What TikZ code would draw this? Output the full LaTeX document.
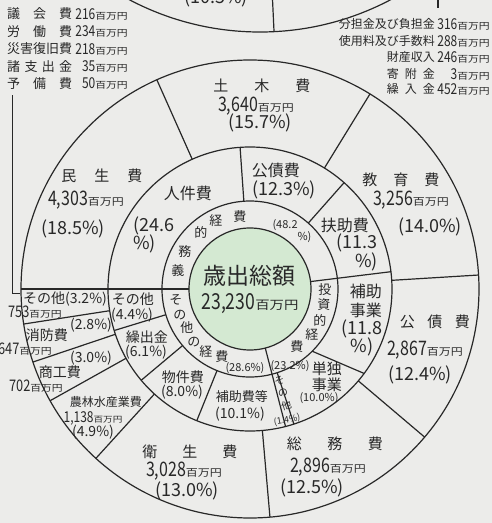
\documentclass[tikz,border=0pt]{standalone}
\usepackage{fontspec}
\setmainfont{Noto Sans CJK JP}
\newfontfamily\numfont[FakeStretch=0.8]{Noto Sans CJK JP}
\newfontfamily\unitfont[FakeStretch=1.2]{Noto Sans CJK JP}
\usepackage{tikz}
\definecolor{paper}{RGB}{236,236,234}
\definecolor{mint}{RGB}{212,233,210}
\definecolor{ink}{RGB}{40,40,40}
\newcommand{\mil}[1][10]{{\unitfont\fontsize{#1}{#1}\selectfont 百万円}}
\newcommand{\spread}[2]{\makebox[#1]{#2}}
\tikzstyle{ring} = [draw=ink, line width=1.2pt]
\tikzstyle{divider} = [draw=ink, line width=1.2pt]
\tikzstyle{leader} = [draw=ink, line width=1pt]
\tikzset{
  txt/.style={text=ink, inner sep=0pt, align=center},
  bigname/.style={txt, font=\fontsize{15}{15}\selectfont},
  bigamt/.style={txt, font=\numfont\fontsize{20}{20}\selectfont},
  bigpct/.style={txt, font=\fontsize{18}{18}\selectfont},
  midname/.style={txt, font=\fontsize{16}{19}\selectfont},
  midpct/.style={txt, font=\fontsize{18}{18.5}\selectfont},
  lowname/.style={txt, font=\fontsize{14}{14}\selectfont},
  smallamt/.style={txt, font=\numfont\fontsize{16}{16}\selectfont},
  arcchar/.style={txt, font=\fontsize{13}{13}\selectfont},
  tinytext/.style={txt, font=\fontsize{11}{11}\selectfont},
  listname/.style={txt, font=\fontsize{13}{13}\selectfont},
  listvalue/.style={txt, font=\numfont\fontsize{15}{15}\selectfont},
}
\begin{document}
\begin{tikzpicture}[x=1pt, y=1pt]

  \useasboundingbox (-250,-234) rectangle (242,289);
  \fill[paper] (-250,-234) rectangle (242,289);
  \clip (-250,-234) rectangle (242,289);

  %%%%%%%%%%%%%%%%%%%%%%%%%%%%%%%%%%%%%%%%%%%%%%%%%%%%%%%%%%%%%%
  %                    REVENUE PIE (CUT OFF)                   %
  %%%%%%%%%%%%%%%%%%%%%%%%%%%%%%%%%%%%%%%%%%%%%%%%%%%%%%%%%%%%%%

  \draw[ring] (10,537) circle (280pt);
  \draw[divider] (22.4,292) -- (24,258);
  \draw[divider] (188,292) -- (188,281);
  \node[bigpct] (revenue-share) at (-34,291) {(10.5\%)};

  %%%%%%%%%%%%%%%%%%%%%%%%%%%%%%%%%%%%%%%%%%%%%%%%%%%%%%%%%%%%%%
  %                    LISTS                                   %
  %%%%%%%%%%%%%%%%%%%%%%%%%%%%%%%%%%%%%%%%%%%%%%%%%%%%%%%%%%%%%%

  \node[listname, anchor=west] (assembly-label) at (-243,275) {\spread{65pt}{議\hfill 会\hfill 費}};
  \node[listvalue, anchor=east] (assembly-value) at (-122,275) {216\mil[9]};
  \node[listname, anchor=west] (labour-label) at (-243,257.5) {\spread{65pt}{労\hfill 働\hfill 費}};
  \node[listvalue, anchor=east] (labour-value) at (-122,257.5) {234\mil[9]};
  \node[listname, anchor=west] (disaster-label) at (-243,240) {\spread{65pt}{災害復旧費}};
  \node[listvalue, anchor=east] (disaster-value) at (-122,240) {218\mil[9]};
  \node[listname, anchor=west] (misc-label) at (-243,222.5) {\spread{65pt}{諸\hfill 支\hfill 出\hfill 金}};
  \node[listvalue, anchor=east] (misc-value) at (-122,222.5) {35\mil[9]};
  \node[listname, anchor=west] (reserve-label) at (-243,205.5) {\spread{65pt}{予\hfill 備\hfill 費}};
  \node[listvalue, anchor=east] (reserve-value) at (-122,205.5) {50\mil[9]};

  \coordinate (leader-top) at (-237,194);
  \coordinate (leader-end) at (-230,-4);
  \draw[leader] (leader-top) |- (leader-end);

  \node[listname, anchor=east, font=\fontsize{12}{12}\selectfont] (shares-label) at (185,265) {分担金及び負担金};
  \node[listvalue, anchor=east] (shares-value) at (240,265) {316\mil[9]};
  \node[listname, anchor=east, font=\fontsize{12}{12}\selectfont] (fees-label) at (185,248) {使用料及び手数料};
  \node[listvalue, anchor=east] (fees-value) at (240,248) {288\mil[9]};
  \node[listname, anchor=east, font=\fontsize{12}{12}\selectfont] (property-label) at (185,232) {財産収入};
  \node[listvalue, anchor=east] (property-value) at (240,232) {246\mil[9]};
  \node[listname, anchor=east, font=\fontsize{12}{12}\selectfont] (donation-label) at (185,215) {\spread{48pt}{寄\hfill 附\hfill 金}};
  \node[listvalue, anchor=east] (donation-value) at (240,215) {3\mil[9]};
  \node[listname, anchor=east, font=\fontsize{12}{12}\selectfont] (transfer-label) at (185,200) {\spread{48pt}{繰\hfill 入\hfill 金}};
  \node[listvalue, anchor=east] (transfer-value) at (240,200) {452\mil[9]};

  %%%%%%%%%%%%%%%%%%%%%%%%%%%%%%%%%%%%%%%%%%%%%%%%%%%%%%%%%%%%%%
  %                    EXPENDITURE PIE                         %
  %%%%%%%%%%%%%%%%%%%%%%%%%%%%%%%%%%%%%%%%%%%%%%%%%%%%%%%%%%%%%%

  \filldraw[ring, fill=mint] (0,0) circle (61pt);
  \draw[ring] (0,0) circle (88pt);
  \draw[ring] (0,0) circle (142pt);
  \draw[ring] (0,0) circle (229pt);

  % by character
  \draw[divider] (180:61pt) -- (180:229pt);
  \draw[divider] (7:61pt) -- (7:142pt);
  \draw[divider] (-75.5:61pt) -- (-75.5:142pt);

  % by kind
  \draw[divider] (94:88pt) -- (94:142pt)
    (48.5:88pt) -- (48.5:142pt)
    (-45:88pt) -- (-36.5:142pt)
    (-72:88pt) -- (-72:142pt)
    (-112:88pt) -- (-112:142pt)
    (-140:88pt) -- (-140:142pt)
    (-163:88pt) -- (-163:142pt);

  % by purpose
  \draw[divider] (114:142pt) -- (114:229pt)
    (58.4:142pt) -- (58.4:229pt)
    (3.5:142pt) -- (3.5:229pt)
    (-40.3:142pt) -- (-40.3:229pt)
    (-85:142pt) -- (-85:229pt)
    (-132.3:142pt) -- (-132.3:229pt)
    (-150.8:142pt) -- (-150.8:229pt)
    (-161.4:142pt) -- (-161.4:229pt)
    (-171.2:142pt) -- (-171.2:229pt);

  % centre
  \node[txt, font=\fontsize{23}{23}\selectfont] (total-name) at (0,13) {歳出総額};
  \node[txt, font=\numfont\fontsize{22}{22}\selectfont] (total-amount) at (0,-15) {23,230\mil[12]};

  % mandatory
  \node[arcchar] (mandatory-1) at (-72,18) {義};
  \node[arcchar] (mandatory-2) at (-65,37) {務};
  \node[arcchar] (mandatory-3) at (-49,57) {的};
  \node[arcchar] (mandatory-4) at (-34,68) {経};
  \node[arcchar] (mandatory-5) at (-10,72) {費};
  \node[tinytext, align=right] (mandatory-share) at (42,58) {(48.2\phantom{\%)}\\\%)};

  % investment
  \node[arcchar] (investment-1) at (75,-1) {投};
  \node[arcchar] (investment-2) at (74,-16) {資};
  \node[arcchar] (investment-3) at (70,-31) {的};
  \node[arcchar] (investment-4) at (62,-46) {経};
  \node[arcchar] (investment-5) at (47,-58) {費};
  \node[tinytext] (investment-share) at (40,-77) {(23.2\%)};

  % other
  \node[arcchar] (other-1) at (-74,-11) {そ};
  \node[arcchar] (other-2) at (-70,-26) {の};
  \node[arcchar] (other-3) at (-63,-39) {他};
  \node[arcchar] (other-4) at (-56,-53) {の};
  \node[arcchar] (other-5) at (-44,-63) {経};
  \node[arcchar] (other-6) at (-28,-68) {費};
  \node[tinytext] (other-share) at (-5,-79) {(28.6\%)};

  % ring by kind
  \node[midname] (staff-name) at (-62,96) {人件費};
  \node[midpct, align=left, anchor=west] (staff-share) at (-117,54) {(24.6\\\%)};
  \node[midname] (bonds-name) at (26,119) {公債費};
  \node[midpct] (bonds-share) at (34,99) {(12.3\%)};
  \node[midname] (aid-name) at (95,64) {扶助費};
  \node[midpct, align=right, anchor=east] (aid-share) at (128,36.5) {(11.3\\\%)};
  \node[midname] (subsidized-name) at (116,-11.5) {補助\\事業};
  \node[midpct] (subsidized-share) at (112,-49) {(11.8\\\%)};
  \node[midname, font=\fontsize{15}{16}\selectfont] (independent-name) at (77,-88) {単独\\事業};
  \node[tinytext] (independent-share) at (69,-109) {(10.0\%)};
  \node[txt, font=\fontsize{10}{13}\selectfont, rotate=16] (invest-other-name) at (33,-104) {そ\\の\\他};
  \node[txt, font=\fontsize{9}{9}\selectfont, rotate=10] (invest-other-share) at (37,-131) {(1.4\%)};
  \node[lowname, font=\fontsize{13}{13}\selectfont] (grants-name) at (-8,-108) {補助費等};
  \node[lowname] (grants-share) at (-10,-125) {(10.1\%)};
  \node[lowname] (goods-name) at (-67,-88) {物件費};
  \node[lowname] (goods-share) at (-68,-103) {(8.0\%)};
  \node[lowname] (transfers-name) at (-103,-48) {繰出金};
  \node[lowname] (transfers-share) at (-104,-63) {(6.1\%)};
  \node[lowname] (kind-other-name) at (-117,-10) {その他};
  \node[lowname] (kind-other-share) at (-118,-26) {(4.4\%)};

  % ring by purpose
  \node[bigname] (civil-name) at (12,203) {\spread{97pt}{土\hfill 木\hfill 費}};
  \node[bigamt] (civil-amount) at (6,183) {3,640\mil};
  \node[bigpct] (civil-share) at (10,166) {(15.7\%)};

  \node[bigname] (welfare-name) at (-148,113) {\spread{81pt}{民\hfill 生\hfill 費}};
  \node[bigamt] (welfare-amount) at (-164,89) {4,303\mil};
  \node[bigpct] (welfare-share) at (-177,60) {(18.5\%)};

  \node[bigname] (education-name) at (151,109) {\spread{77pt}{教\hfill 育\hfill 費}};
  \node[bigamt] (education-amount) at (161,89) {3,256\mil};
  \node[bigpct] (education-share) at (180,62) {(14.0\%)};

  \node[bigname] (debt-name) at (185,-33) {\spread{70pt}{公\hfill 債\hfill 費}};
  \node[bigamt] (debt-amount) at (175,-61) {2,867\mil};
  \node[bigpct] (debt-share) at (170,-86) {(12.4\%)};

  \node[bigname] (general-name) at (85,-155) {\spread{96pt}{総\hfill 務\hfill 費}};
  \node[bigamt] (general-amount) at (78,-178) {2,896\mil};
  \node[bigpct] (general-share) at (62,-199) {(12.5\%)};

  \node[bigname] (health-name) at (-60,-163) {\spread{95pt}{衛\hfill 生\hfill 費}};
  \node[bigamt] (health-amount) at (-66,-182) {3,028\mil};
  \node[bigpct] (health-share) at (-63,-202) {(13.0\%)};

  \node[lowname, font=\fontsize{12}{12}\selectfont] (farm-name) at (-144,-113) {農林水産業費};
  \node[smallamt, font=\numfont\fontsize{15}{15}\selectfont] (farm-amount) at (-157,-129) {1,138\mil[8]};
  \node[lowname] (farm-share) at (-157,-143) {(4.9\%)};

  \node[lowname] (commerce-name) at (-190,-83) {商工費};
  \node[smallamt, anchor=east] (commerce-amount) at (-187,-97) {702\mil[9]};
  \node[lowname] (commerce-share) at (-159,-69) {(3.0\%)};

  \node[lowname] (fire-name) at (-203,-46) {消防費};
  \node[smallamt, anchor=east] (fire-amount) at (-198,-60) {647\mil[9]};
  \node[lowname] (fire-share) at (-159,-36) {(2.8\%)};

  \node[lowname] (purpose-other-name) at (-185,-10) {その他(3.2\%)};
  \node[smallamt, anchor=east] (purpose-other-amount) at (-188,-23) {753\mil[9]};

\end{tikzpicture}
\end{document}
